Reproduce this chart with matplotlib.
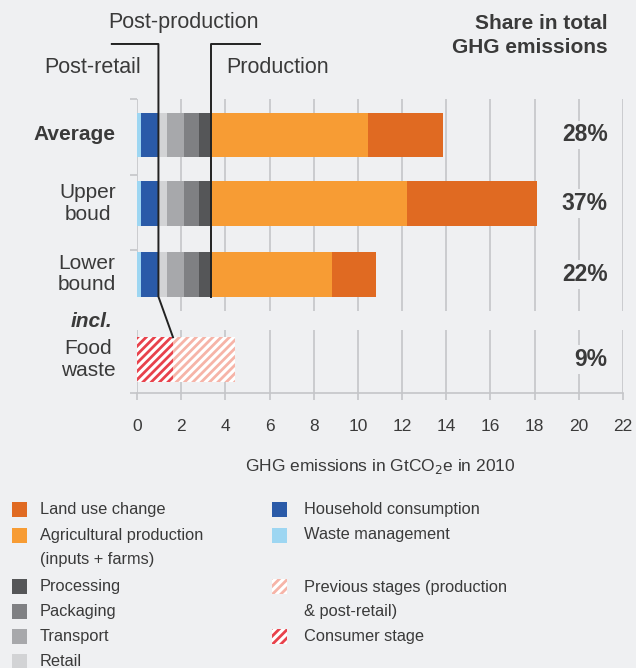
import matplotlib.pyplot as plt
from matplotlib.patches import Rectangle

plt.rcParams['font.family'] = ['Liberation Sans', 'DejaVu Sans']
plt.rcParams['hatch.linewidth'] = 2.0

# data (GtCO2e in 2010)
categories = ['Average', 'Upper\nboud', 'Lower\nbound']
waste_mgmt = [0.18, 0.18, 0.18]
household = [0.79, 0.79, 0.79]
retail = [0.40, 0.40, 0.40]
transport = [0.78, 0.78, 0.78]
packaging = [0.64, 0.64, 0.64]
processing = [0.56, 0.56, 0.56]
agricultural = [7.09, 8.87, 5.49]
land_use = [3.41, 5.88, 1.96]
shares = ['28%', '37%', '22%']

food_waste_label = 'Food\nwaste'
consumer_stage = 1.63
previous_stages = 2.79
food_waste_share = '9%'

xticks = list(range(0, 23, 2))

BG = '#eff0f2'
TXT = '#3a3a3a'
GRID = '#c4c5c8'

stack = [
    ('Waste management', waste_mgmt, '#9dd6f2'),
    ('Household consumption', household, '#2a5aa8'),
    ('Retail', retail, '#d2d3d5'),
    ('Transport', transport, '#a7a8ab'),
    ('Packaging', packaging, '#7f8083'),
    ('Processing', processing, '#555658'),
    ('Agricultural production\n(inputs + farms)', agricultural, '#f79c34'),
    ('Land use change', land_use, '#e06a22'),
]
consumer_color = '#e8424c'
previous_color = '#f6b4a8'

fig = plt.figure(figsize=(6.36, 6.68), dpi=100, facecolor=BG)
ax = fig.add_axes([137 / 636, 1 - 393 / 668, 486 / 636, 294 / 668])
ax.set_facecolor(BG)

ypos = [0, 0.98, 1.99]
yfood = 3.21
bh = 0.64
ax.set_xlim(0, 22)
ax.set_ylim(3.686, -0.514)

# grid with gap before the food-waste row
ax.vlines(xticks[1:], -0.514, 2.514, color=GRID, lw=1.2, zorder=0)
ax.vlines(xticks[1:], 2.786, 3.686, color=GRID, lw=1.2, zorder=0)
ax.vlines(0, -0.514, 2.31, color=GRID, lw=1.2, zorder=0)
ax.vlines(0, 2.786, 3.686, color=GRID, lw=1.2, zorder=0)

left = [0, 0, 0]
for name, vals, col in stack:
    ax.barh(ypos, vals, left=left, height=bh, color=col, lw=0, zorder=2)
    left = [l + v for l, v in zip(left, vals)]

ax.barh(yfood, consumer_stage, height=bh, facecolor='white', edgecolor=consumer_color,
        hatch='////', lw=0, zorder=2)
ax.barh(yfood, previous_stages, left=consumer_stage, height=bh, facecolor='white',
        edgecolor=previous_color, hatch='////', lw=0, zorder=2)

for sp in ['top', 'right', 'left']:
    ax.spines[sp].set_visible(False)
ax.spines['bottom'].set_color(GRID)
ax.spines['bottom'].set_linewidth(1.2)
ax.set_xticks(xticks)
ax.set_yticks([-0.514, 0.567, 1.647, 3.686])
ax.set_yticklabels([])
ax.tick_params(axis='x', colors=GRID, length=5, width=1.2, pad=14, labelsize=12.5, labelcolor=TXT)
ax.tick_params(axis='y', colors=GRID, length=5, width=1.2)
ax.set_xlabel('GHG emissions in GtCO$_2$e in 2010', fontsize=12.5, color=TXT, labelpad=16)

# category labels
for y, lab in zip(ypos, categories):
    bold = 'bold' if lab == 'Average' else 'normal'
    ax.text(-0.96, y, lab, ha='right', va='center', multialignment='center', fontsize=15,
            fontweight=bold, color=TXT, linespacing=1.15, clip_on=False)
ax.text(-1.1, 2.67, 'incl.', ha='right', va='center', fontsize=15, fontweight='bold',
        fontstyle='italic', color=TXT, clip_on=False)
ax.text(-0.96, yfood, food_waste_label, ha='right', va='center', multialignment='center',
        fontsize=15, color=TXT, linespacing=1.2, clip_on=False)

# shares
for y, s in zip(ypos + [yfood], shares + [food_waste_share]):
    ax.text(21.3, y, s, ha='right', va='center', fontsize=16.5, fontweight='bold', color=TXT,
            bbox=dict(facecolor=BG, edgecolor='none', pad=2), zorder=3)
ax.text(21.3, -1.42, 'Share in total\nGHG emissions', ha='right', va='center', fontsize=15,
        fontweight='bold', color=TXT, linespacing=1.36, clip_on=False)

# stage boundaries
retail_start = waste_mgmt[0] + household[0]
prod_start = retail_start + retail[0] + transport[0] + packaging[0] + processing[0]
lower_bottom = ypos[2] + bh / 2
ax.plot([-1.14, retail_start, retail_start, consumer_stage],
        [-1.3, -1.3, lower_bottom, yfood - bh / 2], color='#222222', lw=1.4,
        clip_on=False, zorder=4)
ax.plot([5.55, prod_start, prod_start], [-1.3, -1.3, lower_bottom], color='#222222',
        lw=1.4, clip_on=False, zorder=4)
ax.text(2.09, -1.6, 'Post-production', ha='center', va='center', fontsize=15.5, color=TXT,
        clip_on=False)
ax.text(0.17, -0.97, 'Post-retail', ha='right', va='center', fontsize=15.5, color=TXT,
        clip_on=False)
ax.text(4.06, -0.97, 'Production', ha='left', va='center', fontsize=15.5, color=TXT,
        clip_on=False)

# legend
W, H = 636, 668
LS = 1.76
left_items = ['Land use change', 'Agricultural production\n(inputs + farms)',
              'Processing', 'Packaging', 'Transport', 'Retail']
colors = {name: col for name, _, col in stack}
left_rows = [509.5, 535, 586.5, 611.5, 636.5, 661.5]
for name, yy in zip(left_items, left_rows):
    fig.patches.append(Rectangle((12 / W, 1 - (yy + 7.5) / H), 15 / W, 15 / H,
                                 transform=fig.transFigure, color=colors[name], lw=0))
    ty = yy + 12.75 if '\n' in name else yy
    fig.text(40 / W, 1 - ty / H, name, ha='left', va='center',
             fontsize=11.8, color=TXT, linespacing=LS)
right_items = [('Household consumption', colors['Household consumption'], None),
               ('Waste management', colors['Waste management'], None),
               ('Previous stages (production\n& post-retail)', previous_color, '////'),
               ('Consumer stage', consumer_color, '////')]
right_rows = [509.5, 535, 586.5, 636.5]
for (name, col, hatch), yy in zip(right_items, right_rows):
    if hatch:
        r = Rectangle((272 / W, 1 - (yy + 7.5) / H), 15 / W, 15 / H, transform=fig.transFigure,
                      facecolor='white', edgecolor=col, hatch=hatch, lw=0)
    else:
        r = Rectangle((272 / W, 1 - (yy + 7.5) / H), 15 / W, 15 / H, transform=fig.transFigure,
                      color=col, lw=0)
    fig.patches.append(r)
    ty = yy + 12.75 if '\n' in name else yy
    fig.text(304 / W, 1 - ty / H, name, ha='left', va='center',
             fontsize=11.8, color=TXT, linespacing=LS)

plt.savefig('out.png', dpi=100, facecolor=BG)
